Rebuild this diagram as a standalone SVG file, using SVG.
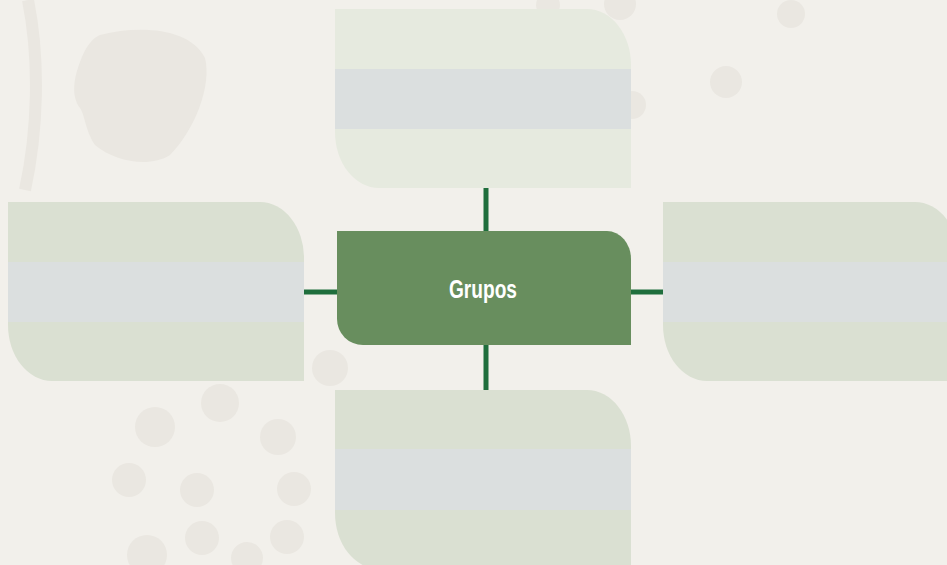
<svg xmlns="http://www.w3.org/2000/svg" width="947" height="565" viewBox="0 0 947 565">
<style>
.bg{fill:#F2F0EB}
.blob{fill:#EAE7E1}
.lt{fill:#E6EADF}
.dk{fill:#DAE0D2}
.band{fill:#DBDFDF}
.conn{stroke:#1F6E3C;stroke-width:5;fill:none}
.center{fill:#688E5E}
.lbl{font-family:"Liberation Sans Narrow","Liberation Sans",Arial,sans-serif;font-weight:bold;font-size:26px;fill:#FFFFFF}
</style>
<defs>
<clipPath id="cTop"><path d="M335,9 H587 A44,56 0 0 1 631,65 V188 H379 A44,56 0 0 1 335,132 Z"/></clipPath>
<clipPath id="cLeft"><path d="M8,202 H260 A44,56 0 0 1 304,258 V381 H52 A44,56 0 0 1 8,325 Z"/></clipPath>
<clipPath id="cRight"><path d="M663,202 H915 A44,56 0 0 1 959,258 V381 H707 A44,56 0 0 1 663,325 Z"/></clipPath>
<clipPath id="cBottom"><path d="M335,390 H587 A44,56 0 0 1 631,446 V569 H379 A44,56 0 0 1 335,513 Z"/></clipPath>
</defs>
<rect class="bg" x="0" y="0" width="947" height="565"/>
<g id="background">
<path class="blob" d="M100,35 C140,25 190,28 205,58 C212,85 195,130 170,155 C150,168 115,162 95,145 C85,130 85,115 80,108 C70,95 75,75 80,62 C85,48 92,38 100,35 Z"/>
<path d="M28,0 C40,60 38,130 25,190" stroke="#EAE7E1" stroke-width="12" fill="none"/>
<circle class="blob" cx="726" cy="82" r="16"/>
<circle class="blob" cx="791" cy="14" r="14"/>
<circle class="blob" cx="548" cy="5" r="12"/>
<circle class="blob" cx="620" cy="4" r="16"/>
<circle class="blob" cx="632" cy="105" r="14"/>
<circle class="blob" cx="330" cy="368" r="18"/>
<circle class="blob" cx="155" cy="427" r="20"/>
<circle class="blob" cx="220" cy="403" r="19"/>
<circle class="blob" cx="278" cy="437" r="18"/>
<circle class="blob" cx="129" cy="480" r="17"/>
<circle class="blob" cx="197" cy="490" r="17"/>
<circle class="blob" cx="294" cy="489" r="17"/>
<circle class="blob" cx="202" cy="538" r="17"/>
<circle class="blob" cx="287" cy="537" r="17"/>
<circle class="blob" cx="147" cy="555" r="20"/>
<circle class="blob" cx="247" cy="558" r="16"/>
</g>
<g id="connectors">
<line class="conn" x1="486" y1="188" x2="486" y2="231"/>
<line class="conn" x1="486" y1="345" x2="486" y2="390"/>
<line class="conn" x1="304" y1="292" x2="337" y2="292"/>
<line class="conn" x1="631" y1="292" x2="663" y2="292"/>
</g>
<g id="node-top" clip-path="url(#cTop)">
<rect class="lt" x="335" y="9" width="296" height="179"/>
<rect class="band" x="335" y="69" width="296" height="60"/>
</g>
<g id="node-left" clip-path="url(#cLeft)">
<rect class="dk" x="8" y="202" width="296" height="179"/>
<rect class="band" x="8" y="262" width="296" height="60"/>
</g>
<g id="node-right" clip-path="url(#cRight)">
<rect class="dk" x="663" y="202" width="296" height="179"/>
<rect class="band" x="663" y="262" width="296" height="60"/>
</g>
<g id="node-bottom" clip-path="url(#cBottom)">
<rect class="dk" x="335" y="390" width="296" height="179"/>
<rect class="band" x="335" y="449" width="296" height="61"/>
</g>
<g id="node-center">
<path class="center" d="M337,231 H607 A24,28 0 0 1 631,259 V345 H363 A26,26 0 0 1 337,319 Z"/>
<text class="lbl" x="483" y="298" text-anchor="middle" textLength="68" lengthAdjust="spacingAndGlyphs">Grupos</text>
</g>
</svg>
